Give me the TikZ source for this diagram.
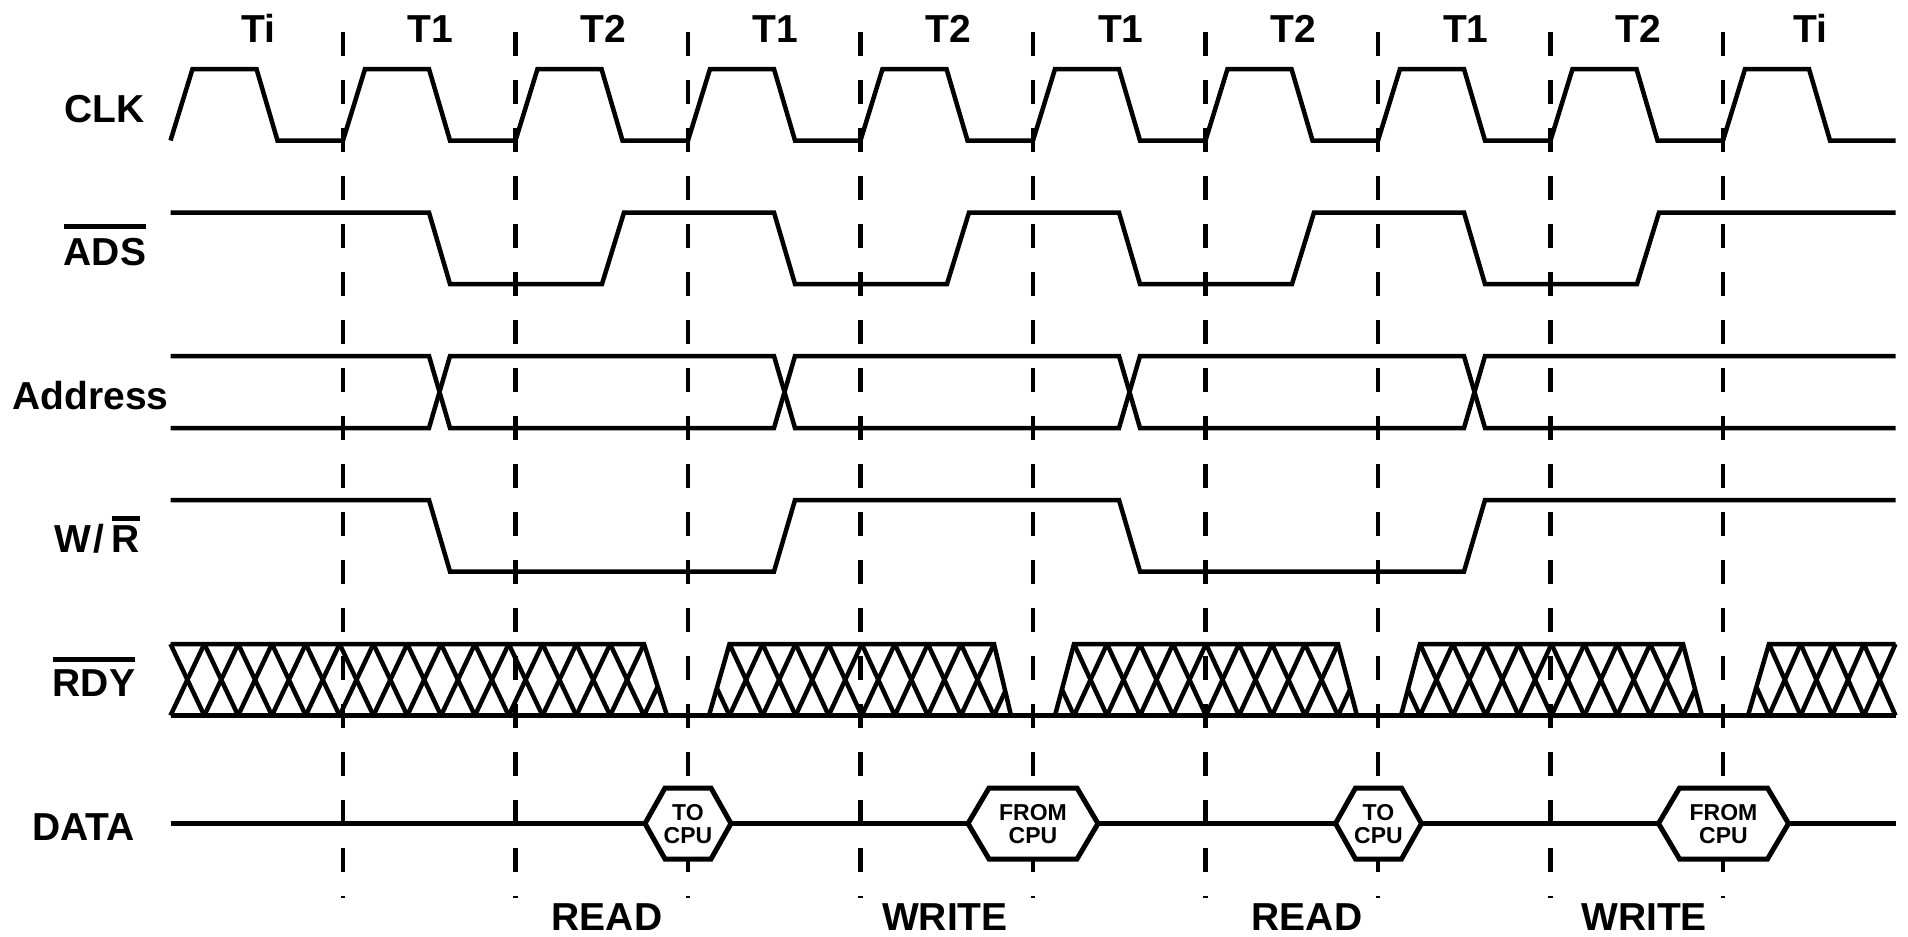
\documentclass[tikz,border=0pt]{standalone}
\usepackage{fontspec}
\setmainfont{Liberation Sans}
\newcommand\ovl[2][3.5pt]{\vbox{\hrule height 2.4pt\kern#1\hbox{#2}}}
\newcommand\rdyhatch[4]{% #1 left top vertex, #2 cell width, #3 first cell, #4 last cell
  \foreach \j in {#3,...,#4} {
    \draw[sig] ({#1+\j*#2},644) -- ({#1+(\j+1)*#2},715.5);
    \draw[sig] ({#1+\j*#2},715.5) -- ({#1+(\j+1)*#2},644);
  }}
\newcommand\hexa[3]{% #1 centre, #2 outer half width, #3 inner half width
  \draw[hexbox] ({#1-#2},823.5) -- ({#1-#3},788) -- ({#1+#3},788) -- ({#1+#2},823.5)
    -- ({#1+#3},859) -- ({#1-#3},859) -- cycle;}
\tikzset{
  sig/.style={line width=2.25pt, line join=miter, line cap=butt},
  gridline/.style={line width=2.1pt, dash pattern=on 11.75pt off 12.25pt},
  lbl/.style={font=\bfseries\fontsize{19.5}{20}\selectfont, inner sep=0pt, anchor=base},
  hexlbl/.style={font=\bfseries\fontsize{11.5}{12}\selectfont, inner sep=0pt, anchor=base},
  hexbox/.style={line width=2.5pt, fill=white, line join=miter},
}
\begin{document}
\begin{tikzpicture}[x=0.5pt,y=-0.5pt]
\useasboundingbox (0,0) rectangle (1908,937);
% clock-period boundaries
\foreach \i in {1,...,9} {
  \coordinate (g\i t) at ({170.5+172.5*\i},32);
  \coordinate (g\i b) at ({170.5+172.5*\i},898);
  \draw[gridline] (g\i t) -- (g\i b);
}
% period labels
\foreach \t [count=\k from 0] in {Ti,T1,T2,T1,T2,T1,T2,T1,T2,Ti}
  \node[lbl] (per\k) at ({258.25+172.5*\k},42) {\t};
% signal names
\node[lbl] (clk) at (104.5,122) {CLK};
\node[lbl] (ads) at (105,265) {\ovl[4.5pt]{ADS}};
\node[lbl] (addr) at (90.5,409.5) {Address};
\node[lbl] (wr) at (97,552) {W\kern1.5pt/\kern3.5pt\ovl[2pt]{R}};
\node[lbl] (rdy) at (94,696) {\ovl[3.6pt]{RDY}};
\node[lbl] (data) at (83.5,840) {DATA};
% CLK
\draw[sig] (170.5,140.5) \foreach \k in {0,...,9} { -- ++(22,-71.5) -- ++(64,0) -- ++(21,71.5) -- ++(65.5,0) };
% ADS
\draw[sig] (170.5,212.5) -- (429,212.5) -- (450,284) -- (602,284) -- (624,212.5) -- (774,212.5) -- (795,284) -- (947,284) -- (969,212.5) -- (1119,212.5) -- (1140,284) -- (1292,284) -- (1314,212.5) -- (1464,212.5) -- (1485,284) -- (1637,284) -- (1659,212.5) -- (1895.5,212.5);
% Address
\draw[sig] (170.5,356) -- (429,356) -- (450,428) -- (774,428) -- (795,356) -- (1119,356) -- (1140,428) -- (1464,428) -- (1485,356) -- (1895.5,356);
\draw[sig] (170.5,428) -- (429,428) -- (450,356) -- (774,356) -- (795,428) -- (1119,428) -- (1140,356) -- (1464,356) -- (1485,428) -- (1895.5,428);
% W/R
\draw[sig] (170.5,500) -- (429,500) -- (450,571.5) -- (774,571.5) -- (795,500) -- (1119,500) -- (1140,571.5) -- (1464,571.5) -- (1485,500) -- (1895.5,500);
% RDY hatching
\begin{scope}
  \clip (160,715.5) -- (160,644) -- (644,644) -- (667,715.5) -- cycle;
  \rdyhatch{170.5}{33.821}{0}{14}
\end{scope}
\begin{scope}
  \clip (709,715.5) -- (729.5,644) -- (994,644) -- (1011,715.5) -- cycle;
  \rdyhatch{729.5}{33.0625}{-1}{8}
\end{scope}
\begin{scope}
  \clip (1055,715.5) -- (1074,644) -- (1338,644) -- (1357,715.5) -- cycle;
  \rdyhatch{1074}{33}{-1}{8}
\end{scope}
\begin{scope}
  \clip (1401,715.5) -- (1420,644) -- (1683,644) -- (1702,715.5) -- cycle;
  \rdyhatch{1420}{32.875}{-1}{8}
\end{scope}
\begin{scope}
  \clip (1748,715.5) -- (1769,644) -- (1905,644) -- (1905,715.5) -- cycle;
  \rdyhatch{1769}{31.625}{-1}{3}
\end{scope}
\draw[sig] (170.5,644) -- (644,644) -- (667,715.5);
\draw[sig] (709,715.5) -- (729.5,644) -- (994,644) -- (1011,715.5);
\draw[sig] (1055,715.5) -- (1074,644) -- (1338,644) -- (1357,715.5);
\draw[sig] (1401,715.5) -- (1420,644) -- (1683,644) -- (1702,715.5);
\draw[sig] (1748,715.5) -- (1769,644) -- (1895.5,644);
\draw[sig] (170.5,715.5) -- (1895.5,715.5);
% DATA
\draw[sig] (170.5,823.5) -- (1895.5,823.5);
\hexa{688}{43}{23}
\hexa{1033}{65}{44}
\hexa{1378.5}{43}{23}
\hexa{1723.5}{65}{44}
\node[hexlbl] (d1a) at (688,820) {TO};
\node[hexlbl] (d1b) at (688,843) {CPU};
\node[hexlbl] (d2a) at (1033,820) {FROM};
\node[hexlbl] (d2b) at (1033,843) {CPU};
\node[hexlbl] (d3a) at (1378.5,820) {TO};
\node[hexlbl] (d3b) at (1378.5,843) {CPU};
\node[hexlbl] (d4a) at (1723.5,820) {FROM};
\node[hexlbl] (d4b) at (1723.5,843) {CPU};
% cycle types
\node[lbl] (c1) at (607,930) {READ};
\node[lbl] (c2) at (945,930) {WRITE};
\node[lbl] (c3) at (1307,930) {READ};
\node[lbl] (c4) at (1644,930) {WRITE};
\end{tikzpicture}
\end{document}
